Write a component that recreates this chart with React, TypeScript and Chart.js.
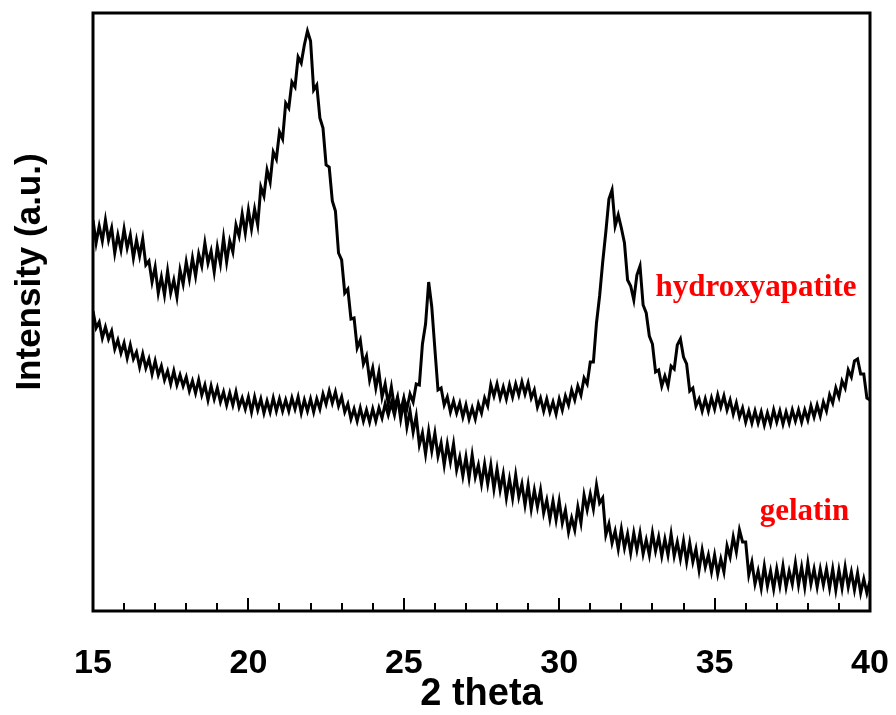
import { useEffect, useRef } from 'react';
import { Chart, registerables } from 'chart.js';

Chart.register(...registerables);

// Scan grid (2θ, degrees)
const SCAN_START = 15;
const SCAN_STEP = 0.1;
const X_MIN = 15;
const X_MAX = 40;
const Y_MIN = 0;
const Y_MAX = 598;
const xTickLabels = [15, 20, 25, 30, 35, 40];

// Intensity (a.u.), 15.0 → 40.0 in 0.1° steps
const gelatin = [
  391, 368, 385, 370, 391, 371, 383, 358, 376, 361,
  382, 363, 376, 353, 371, 355, 372, 346, 350, 329,
  344, 318, 334, 316, 340, 318, 331, 314, 341, 327,
  349, 332, 353, 335, 357, 345, 368, 348, 360, 339,
  364, 347, 373, 349, 370, 359, 386, 375, 397, 378,
  401, 382, 402, 386, 424, 415, 441, 429, 459, 452,
  479, 472, 508, 503, 529, 524, 554, 548, 566, 580,
  570, 521, 526, 493, 483, 446, 444, 410, 400, 358,
  351, 318, 322, 292, 293, 263, 271, 247, 255, 231,
  243, 223, 239, 214, 227, 207, 224, 203, 214, 192,
  210, 184, 200, 179, 195, 166, 178, 157, 180, 160,
  178, 155, 168, 146, 167, 149, 167, 141, 154, 135,
  154, 133, 156, 134, 146, 127, 147, 127, 146, 122,
  142, 121, 137, 113, 132, 113, 136, 114, 127, 106,
  126, 102, 121, 104, 121, 98, 111, 92, 110, 91,
  110, 88, 101, 79, 93, 81, 104, 88, 116, 101,
  117, 102, 126, 108, 113, 76, 87, 68, 80, 62,
  82, 63, 77, 58, 78, 61, 78, 57, 71, 56,
  78, 60, 74, 55, 72, 56, 77, 55, 69, 52,
  70, 49, 68, 49, 62, 41, 61, 44, 56, 39,
  56, 37, 52, 39, 65, 54, 74, 59, 81, 69,
  69, 36, 49, 27, 40, 23, 45, 25, 40, 22,
  42, 25, 45, 24, 40, 27, 48, 26, 44, 24,
  48, 27, 42, 24, 42, 26, 42, 23, 42, 21,
  41, 23, 44, 24, 39, 21, 38, 18, 32, 18,
  30,
];

const hydroxyapatite = [
  300, 283, 289, 273, 284, 272, 280, 262, 271, 258,
  268, 253, 266, 252, 259, 244, 257, 243, 252, 237,
  250, 236, 245, 231, 240, 227, 240, 226, 236, 225,
  234, 220, 230, 218, 231, 216, 226, 211, 225, 212,
  223, 209, 219, 206, 218, 206, 219, 204, 213, 202,
  214, 199, 214, 201, 212, 198, 210, 199, 213, 200,
  212, 200, 211, 200, 213, 202, 214, 198, 211, 200,
  212, 199, 212, 202, 217, 207, 220, 208, 219, 205,
  214, 199, 207, 192, 202, 190, 203, 190, 201, 189,
  202, 190, 203, 193, 207, 196, 208, 196, 212, 200,
  213, 202, 217, 209, 227, 226, 267, 287, 329, 304,
  262, 221, 223, 206, 214, 199, 210, 198, 208, 194,
  206, 192, 203, 192, 207, 198, 213, 205, 226, 215,
  227, 213, 224, 212, 226, 214, 227, 216, 229, 217,
  228, 213, 221, 204, 213, 200, 212, 199, 209, 197,
  212, 201, 215, 206, 221, 211, 225, 216, 233, 227,
  249, 249, 288, 315, 349, 379, 412, 421, 385, 396,
  383, 368, 331, 325, 311, 336, 345, 306, 298, 275,
  267, 239, 241, 225, 235, 225, 245, 242, 266, 272,
  254, 247, 220, 223, 205, 212, 200, 212, 200, 213,
  202, 216, 204, 215, 201, 211, 197, 208, 194, 203,
  189, 200, 188, 200, 188, 199, 186, 198, 187, 201,
  189, 200, 187, 199, 188, 201, 190, 201, 189, 201,
  191, 205, 194, 206, 195, 209, 200, 216, 208, 223,
  214, 230, 223, 241, 234, 250, 252, 237, 237, 213,
  211,
];

const seriesNames = ['hydroxyapatite', 'gelatin'];
// label anchors in data coordinates (2θ, intensity)
const labelX = [33.1, 36.45];
const labelY = [315, 91];

const toPoints = (vals: number[]) =>
  vals.map((v, i) => ({ x: +(SCAN_START + i * SCAN_STEP).toFixed(2), y: v }));

const framePlugin = {
  id: 'frameTicksLabels',
  afterDatasetsDraw(chart: any) {
    const { ctx, chartArea, scales } = chart;
    const { left, right, top, bottom } = chartArea;
    const xs = scales.x;
    const ys = scales.y;
    ctx.save();
    // inward ticks on bottom axis
    ctx.strokeStyle = '#000';
    ctx.lineWidth = 2;
    for (let v = X_MIN + 1; v < X_MAX; v += 1) {
      const px = Math.round(xs.getPixelForValue(v));
      const len = v % 5 === 0 ? 13 : 8;
      ctx.beginPath();
      ctx.moveTo(px, bottom);
      ctx.lineTo(px, bottom - len);
      ctx.stroke();
    }
    // frame
    ctx.lineWidth = 3;
    ctx.strokeRect(left, top, right - left, bottom - top);
    // y-axis title
    ctx.save();
    ctx.translate(30, 272);
    ctx.rotate(-Math.PI / 2);
    ctx.font = 'bold 35px "Liberation Sans", Arial, sans-serif';
    ctx.fillStyle = '#000';
    ctx.textAlign = 'center';
    ctx.textBaseline = 'middle';
    ctx.fillText('Intensity (a.u.)', 0, 0);
    ctx.restore();
    // series labels
    ctx.font = 'bold 31px "Liberation Serif", "Times New Roman", serif';
    ctx.fillStyle = '#ff0000';
    ctx.textAlign = 'left';
    ctx.textBaseline = 'alphabetic';
    seriesNames.forEach((name, i) => {
      ctx.fillText(name, xs.getPixelForValue(labelX[i]), ys.getPixelForValue(labelY[i]));
    });
    ctx.restore();
  },
};

export default function App() {
  const ref = useRef<HTMLCanvasElement | null>(null);
  useEffect(() => {
    document.body.style.margin = '0';
    document.body.style.background = '#fff';
    const canvas = ref.current;
    if (!canvas) return;
    const tickFont = { family: '"Liberation Sans", Arial, sans-serif', size: 34, weight: 'bold' as const };
    const titleFont = { family: '"Liberation Sans", Arial, sans-serif', size: 38, weight: 'bold' as const, lineHeight: 1.1 };
    const chart = new Chart(canvas, {
      type: 'line',
      data: {
        datasets: [
          {
            label: 'hydroxyapatite',
            data: toPoints(hydroxyapatite),
            borderColor: '#000',
            borderWidth: 3,
            pointRadius: 0,
            tension: 0,
            fill: false,
          },
          {
            label: 'gelatin',
            data: toPoints(gelatin),
            borderColor: '#000',
            borderWidth: 3,
            pointRadius: 0,
            tension: 0,
            fill: false,
          },
        ],
      },
      options: {
        responsive: false,
        animation: false,
        devicePixelRatio: 1,
        layout: { padding: { left: 93, top: 13, right: 26, bottom: 0 } },
        plugins: { legend: { display: false }, tooltip: { enabled: false } },
        scales: {
          x: {
            type: 'linear',
            min: X_MIN,
            max: X_MAX,
            afterFit: (s: any) => {
              s.height = 104;
              s.paddingLeft = 0;
              s.paddingRight = 0;
            },
            afterBuildTicks: (s: any) => {
              s.ticks = xTickLabels.map((v) => ({ value: v }));
            },
            ticks: {
              font: tickFont,
              color: '#000',
              padding: 32,
              maxRotation: 0,
              autoSkip: false,
            },
            grid: { display: false, drawTicks: false },
            border: { display: false },
            title: {
              display: true,
              text: '2 theta',
              color: '#000',
              font: titleFont,
              padding: { top: 0, bottom: 0 },
            },
          },
          y: {
            display: false,
            min: Y_MIN,
            max: Y_MAX,
          },
        },
      },
      plugins: [framePlugin],
    });
    return () => chart.destroy();
  }, []);
  return <canvas ref={ref} width={896} height={715} style={{ display: 'block' }} />;
}
